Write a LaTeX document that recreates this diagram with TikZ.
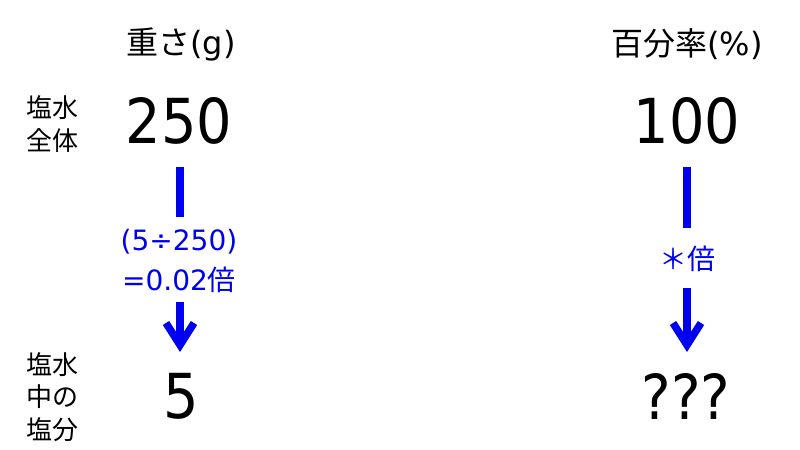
\documentclass[tikz,border=0pt]{standalone}
\usepackage{fontspec}
\setmainfont{DejaVu Sans}
\newfontfamily\narrowfont[FakeStretch=0.9]{DejaVu Sans}
\newfontfamily\cjk{Noto Sans CJK JP}
\usetikzlibrary{arrows.meta}
\definecolor{arrowblue}{RGB}{0,0,240}
\tikzset{
  big/.style={inner sep=0pt,font=\narrowfont\fontsize{62bp}{70bp}\selectfont},
  head/.style={inner sep=0pt,font=\fontsize{32bp}{36bp}\selectfont},
  side/.style={inner sep=0pt,align=center,font=\cjk\fontsize{26bp}{32.5bp}\selectfont},
  bluelab/.style={inner sep=0pt,align=center,text=arrowblue,font=\fontsize{28bp}{40bp}\selectfont},
  bar/.style={draw=arrowblue,line width=8bp},
  downarrow/.style={bar,-{Straight Barb[length=22bp,width=28bp,line width=7.5bp]}}
}
\begin{document}
\begin{tikzpicture}[x=1bp,y=-1bp]
\useasboundingbox (0,0) rectangle (800,450);
% headers
\node[head] (hw) at (181,44) {{\cjk 重さ}(g)};
\node[head] (hp) at (687,44) {{\cjk 百分率}(\%)};
% side labels
\node[side] (s1) at (52,124) {塩水\\全体};
\node[side] (s2) at (52,397) {塩水\\中の\\塩分};
% big numbers
\node[big] (w250) at (179,121) {250};
\node[big] (p100) at (687,121) {100};
\node[big] (w5) at (181,396) {5};
\node[big] (pq) at (686,396) {???};
% left column
\coordinate (la) at (180,167);
\coordinate (lb) at (180,217);
\draw[bar] (la) -- (lb);
\node[bluelab] (lt) at (179,261) {(5÷250)\\=0.02{\cjk 倍}};
\coordinate (lc) at (180,302);
\coordinate (ld) at (180,352);
\draw[downarrow] (lc) -- (ld);
% right column
\coordinate (ra) at (687,167);
\coordinate (rb) at (687,228);
\draw[bar] (ra) -- (rb);
\node[bluelab] (rt) at (687,259) {{\cjk ＊倍}};
\coordinate (rc) at (687,288);
\coordinate (rd) at (687,352);
\draw[downarrow] (rc) -- (rd);
\end{tikzpicture}
\end{document}
